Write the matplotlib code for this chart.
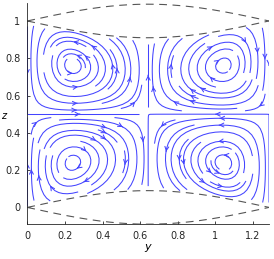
import numpy as np
import matplotlib
matplotlib.use('Agg')
import matplotlib.pyplot as plt

# domain
L = 1.285            # width of the cell in y
amp = 0.09           # bulge of the dashed boundaries
y_ticks = [0, 0.2, 0.4, 0.6, 0.8, 1, 1.2]
y_ticklabels = ['0', '0.2', '0.4', '0.6', '0.8', '1', '1.2']
z_ticks = [0, 0.2, 0.4, 0.6, 0.8, 1]
z_ticklabels = ['0', '0.2', '0.4', '0.6', '0.8', '1']
warp = 0.068         # eddy centres pushed towards the side walls
leak = 0.8           # flow through the moving walls (open U-shaped lines)

# grid for the velocity field
ny, nz = 260, 240
yy = np.linspace(0, L, ny)
zz = np.linspace(-0.1, 1.1, nz)
Y, Z = np.meshgrid(yy, zz)

# boundaries of the fluid (inner dashed curves)
z_bot = amp * np.sin(np.pi * Y / L)
z_top = 1 - amp * np.sin(np.pi * Y / L)
zeta = (Z - z_bot) / (z_top - z_bot)
xi = Y / L
phi = xi + warp * np.sin(2 * np.pi * xi)

# stream function of four counter-rotating cells
g = np.sin(2 * np.pi * zeta) + leak * np.cos(np.pi * zeta)
psi = -np.sin(2 * np.pi * phi) * g
dpsi_dz, dpsi_dy = np.gradient(psi, zz, yy)
U = dpsi_dz
V = -dpsi_dy
outside = (zeta < 0.003) | (zeta > 0.997)
U = np.ma.masked_where(outside, U)
V = np.ma.masked_where(outside, V)

fig = plt.figure(figsize=(2.74, 2.59), dpi=100)
ax = fig.add_axes([27.3 / 274, 35 / 259, (269 - 27.3) / 274, (224 - 2.7) / 259])

ax.streamplot(yy, zz, U, V, density=1.3, color='#4444ff', linewidth=0.75,
              arrowstyle='->', arrowsize=0.7)

# dashed boundary curves
yb = np.linspace(0, L, 200)
bulge = amp * np.sin(np.pi * yb / L)
for base in [0, 1]:
    ax.plot(yb, base + bulge, '--', color='#555555', lw=0.8, dashes=(7, 5))
    ax.plot(yb, base - bulge, '--', color='#555555', lw=0.8, dashes=(7, 5))

ax.set_xlim(0, L)
ax.set_ylim(-0.089, 1.098)
ax.set_xticks(y_ticks)
ax.set_xticklabels(y_ticklabels)
ax.set_yticks(z_ticks)
ax.set_yticklabels(z_ticklabels)
ax.spines['top'].set_visible(False)
ax.spines['right'].set_visible(False)
for s in ['left', 'bottom']:
    ax.spines[s].set_color('#262626')
    ax.spines[s].set_linewidth(0.6)
ax.tick_params(direction='in', length=2.5, width=0.6, labelsize=7,
               colors='#262626', pad=5)
ax.set_xlabel('$y$', fontsize=8, labelpad=1)
ax.set_ylabel('$z$', fontsize=7, rotation=0, ha='center', va='center')
ax.yaxis.set_label_coords(-0.092, 0.49)

fig.savefig('out.png', dpi=100)
